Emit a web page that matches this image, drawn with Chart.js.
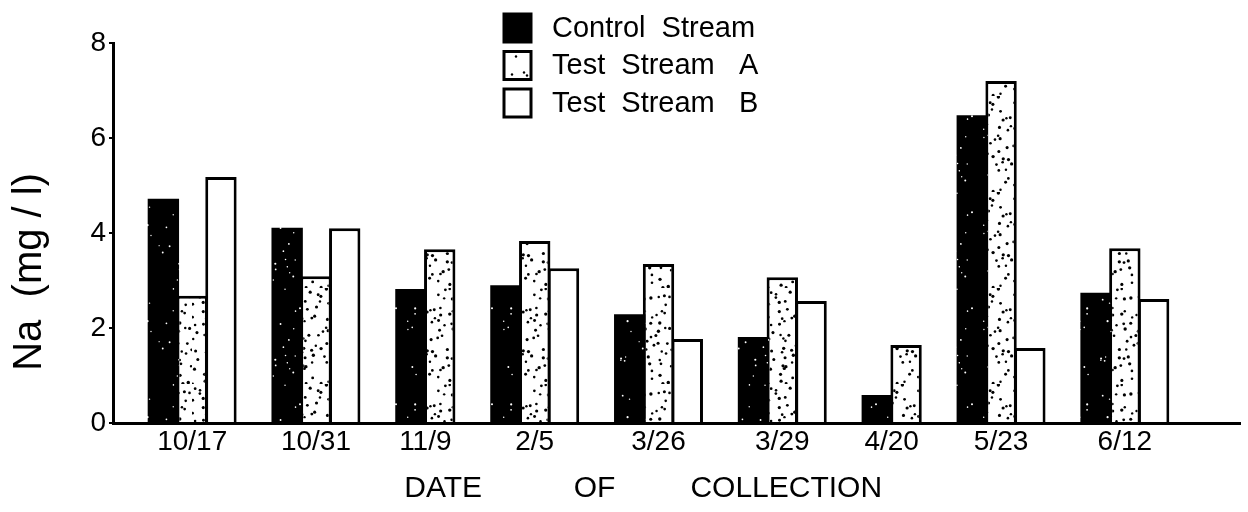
<!DOCTYPE html>
<html>
<head>
<meta charset="utf-8">
<script src="https://cdn.jsdelivr.net/npm/chart.js@4.4.1/dist/chart.umd.min.js"></script>
<style>
  html, body { margin: 0; padding: 0; background: #fff; }
  #wrap { width: 1248px; height: 512px; }
</style>
</head>
<body>
<div id="wrap"><canvas id="chart" width="1248" height="512"></canvas></div>
<script>
// Sodium concentration by collection date
const dates = ['10/17', '10/31', '11/9', '2/5', '3/26', '3/29', '4/20', '5/23', '6/12'];
const controlStream = [4.72, 4.11, 2.82, 2.90, 2.29, 1.81, 0.59, 6.48, 2.74];
const testStreamA   = [2.68, 3.09, 3.66, 3.83, 3.35, 3.07, 1.64, 7.20, 3.68];
const testStreamB   = [5.18, 4.10, null, 3.26, 1.77, 2.57, null, 1.58, 2.61];
const seriesNames = ['Control  Stream', 'Test  Stream   A', 'Test  Stream   B'];
const yTicks = [0, 2, 4, 6, 8];

const FONT = "'Liberation Sans', Arial, sans-serif";
const GROUP_GAP = 1.3; // space between date groups, in bar widths

// Bars of a date sit side by side; a missing value leaves no empty slot.
const series = [controlStream, testStreamA, testStreamB];
const points = series.map(() => []);
const groupCenters = [];
let cursor = 0;
dates.forEach((d, i) => {
  const start = cursor;
  series.forEach((vals, s) => {
    if (vals[i] === null) return;
    points[s].push({ x: cursor, y: vals[i] });
    cursor += 1;
  });
  groupCenters.push((start + cursor - 1) / 2);
  cursor += GROUP_GAP;
});

// Stipple textures: one jittered dot per grid cell, some cells left empty
function stipple(bg, fg, cell, keep, rMin, rMax, seed) {
  const size = 96;
  const c = document.createElement('canvas');
  c.width = c.height = size;
  const g = c.getContext('2d');
  g.fillStyle = bg;
  g.fillRect(0, 0, size, size);
  g.fillStyle = fg;
  let a = seed >>> 0;
  const next = () => {
    a = (a + 0x6D2B79F5) >>> 0;
    let t = a;
    t = Math.imul(t ^ (t >>> 15), t | 1);
    t ^= t + Math.imul(t ^ (t >>> 7), t | 61);
    return ((t ^ (t >>> 14)) >>> 0) / 4294967296;
  };
  for (let cy = 0; cy < size; cy += cell) {
    for (let cx = 0; cx < size; cx += cell) {
      const x = cx + next() * cell, y = cy + next() * cell;
      const r = rMin + next() * (rMax - rMin);
      if (next() > keep) continue;
      g.beginPath();
      g.arc(x, y, r, 0, Math.PI * 2);
      g.fill();
    }
  }
  return g.createPattern(c, 'repeat');
}
const darkStipple = stipple('#000', '#fff', 12, 0.6, 0.6, 1.1, 12345);
const lightStipple = stipple('#fff', '#000', 8, 0.9, 1.2, 1.7, 67890);

const fills = [darkStipple, lightStipple, '#fff'];

// Legend drawn as a stacked key in the upper middle of the plot
const stackedKey = {
  id: 'stackedKey',
  afterDraw(chart) {
    const ctx = chart.ctx;
    const x0 = 504, y0 = 14, rowH = 37.5, box = 27;
    ctx.save();
    chart.data.datasets.forEach((ds, i) => {
      const y = y0 + i * rowH;
      ctx.fillStyle = i === 0 ? '#000' : '#fff';
      ctx.fillRect(x0, y, box, box + 1);
      if (i === 1) {
        ctx.fillStyle = '#000';
        [[12, 5], [20, 21], [8, 23], [23, 24]].forEach(([dx, dy]) => {
          ctx.beginPath(); ctx.arc(x0 + dx, y + dy, 1.2, 0, Math.PI * 2); ctx.fill();
        });
      }
      ctx.lineWidth = 3;
      ctx.strokeStyle = '#000';
      ctx.strokeRect(x0, y, box, box + 1);
      ctx.fillStyle = '#000';
      ctx.font = '29px ' + FONT;
      ctx.textBaseline = 'middle';
      ctx.textAlign = 'left';
      ctx.fillText(ds.label, 552, y + box / 2 + 1);
    });
    ctx.restore();
  }
};

new Chart(document.getElementById('chart'), {
  type: 'bar',
  data: {
    datasets: series.map((vals, s) => ({
      label: seriesNames[s],
      data: points[s],
      backgroundColor: fills[s],
      borderColor: '#000',
      borderWidth: s === 0 ? 0 : 3,
      borderSkipped: 'start'
    }))
  },
  options: {
    responsive: false,
    animation: false,
    devicePixelRatio: 1,
    layout: { padding: { left: 0, top: 43, right: 8, bottom: 0 } },
    datasets: { bar: { grouped: false, categoryPercentage: 1, barPercentage: 1.09 } },
    plugins: { legend: { display: false }, tooltip: { enabled: false } },
    scales: {
      x: {
        type: 'linear',
        offset: false,
        min: -1.75,
        max: 37.4,
        afterBuildTicks: (scale) => { scale.ticks = groupCenters.map(v => ({ value: v })); },
        afterFit: (scale) => { scale.height = 89; },
        ticks: {
          autoSkip: false,
          maxRotation: 0,
          padding: 2,
          color: '#000',
          font: { family: FONT, size: 28 },
          callback: (value, index) => dates[index]
        },
        grid: { display: false, drawTicks: false, offset: false },
        border: { display: true, color: '#000', width: 3 },
        title: {
          display: true,
          text: 'DATE           OF         COLLECTION        ',
          color: '#000',
          font: { family: FONT, size: 30 },
          padding: { top: 0, bottom: 5 }
        }
      },
      y: {
        min: 0,
        max: 8,
        afterBuildTicks: (scale) => { scale.ticks = yTicks.map(v => ({ value: v })); },
        afterFit: (scale) => { scale.width = 113; },
        ticks: {
          color: '#000',
          padding: 3,
          font: { family: FONT, size: 28 }
        },
        grid: { drawOnChartArea: false, color: '#000', lineWidth: 2, tickLength: 4 },
        border: { display: true, color: '#000', width: 3 },
        title: {
          display: true,
          text: 'Na  (mg / l)       ',
          color: '#000',
          font: { family: FONT, size: 40 },
          padding: { top: 6, bottom: 0 }
        }
      }
    }
  },
  plugins: [stackedKey]
});
</script>
</body>
</html>
